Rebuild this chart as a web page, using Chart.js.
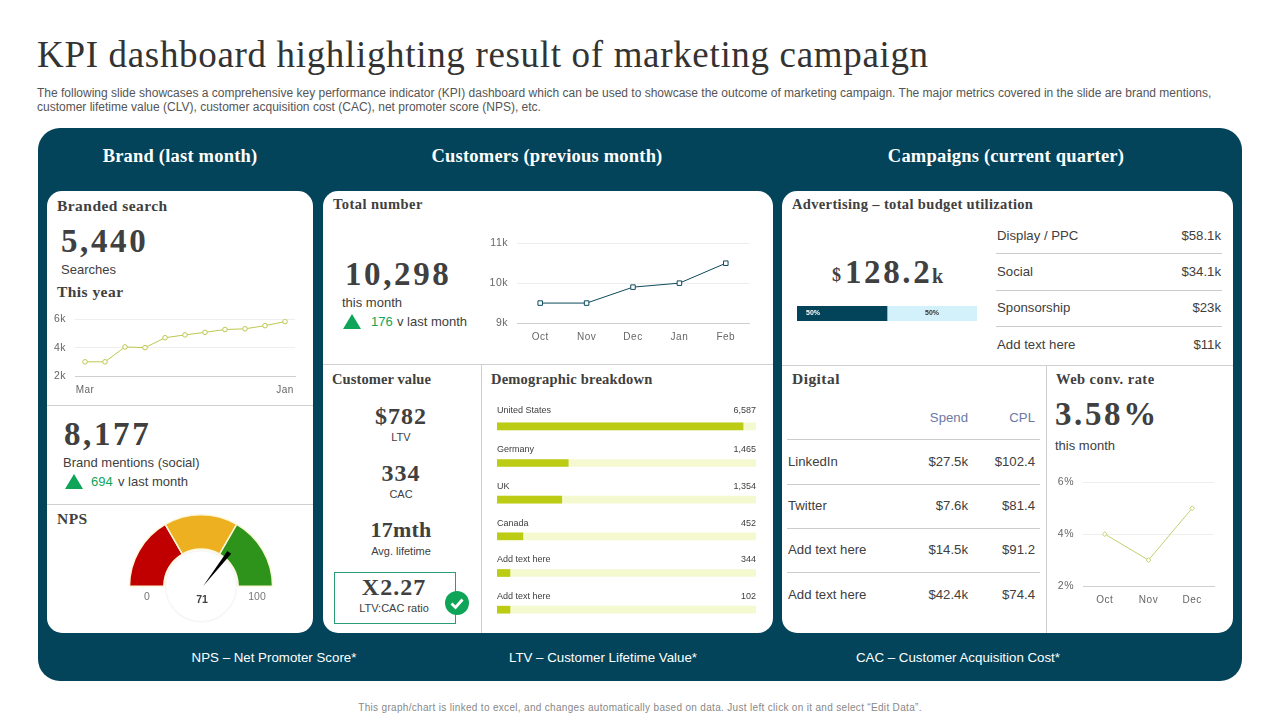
<!DOCTYPE html>
<html>
<head>
<meta charset="utf-8">
<title>KPI dashboard</title>
<script src="https://cdn.jsdelivr.net/npm/chart.js@4/dist/chart.umd.js"></script>
<style>
html,body{margin:0;padding:0;background:#fff;}
#page{position:relative;width:1280px;height:720px;overflow:hidden;font-family:"Liberation Sans",Arial,sans-serif;color:#404040;}
.box{position:absolute;}
.t{position:absolute;white-space:nowrap;transform:translateY(-50%);line-height:1.1;}
.r{transform:translate(-100%,-50%);}
.c{transform:translate(-50%,-50%);}
.serif{font-family:"Liberation Serif",serif;font-weight:bold;}
.head{font-size:14.5px;letter-spacing:.45px;margin-top:1px;}
.big{font-size:33px;letter-spacing:2.6px;}
.mid{font-size:24px;letter-spacing:1px;}
.band{font-size:18.5px;color:#fff;letter-spacing:.2px;margin-top:.2px;}
.foot{font-size:13.3px;color:#fff;margin-top:.5px;}
.sm{font-size:13px;margin-top:1px;}
.rowt{font-size:13.2px;margin-top:.5px;}
.desc{font-size:12px;color:#555;margin-top:1.5px;}
canvas{position:absolute;}
</style>
</head>
<body>
<div id="page"></div>
<script>
// chart values
var searchMonths = ['Mar','Apr','May','Jun','Jul','Aug','Sep','Oct','Nov','Dec','Jan'];
var searchValues = [3000,3000,4050,4000,4700,4900,5080,5280,5330,5550,5840];
var customerMonths = ['Oct','Nov','Dec','Jan','Feb'];
var customerValues = [9500,9500,9900,10000,10500];
var convMonths = ['Oct','Nov','Dec'];
var convValues = [4,3,5];
var countries = ['United States','Germany','UK','Canada','Add text here','Add text here'];
var countryCounts = ['6,587','1,465','1,354','452','344','102'];
var countryShare = [95,27.5,25,10,5,5];
var countryTrack = [100,100,100,100,100,100];
var budgetSplit = [50,50];
var npsBands = [33.33,33.33,33.34];
var npsScore = 71;
var adRows = ['Display / PPC','Social','Sponsorship','Add text here'];
var adSpend = ['$58.1k','$34.1k','$23k','$11k'];
var digitalRows = ['LinkedIn','Twitter','Add text here','Add text here'];
var digitalSpend = ['$27.5k','$7.6k','$14.5k','$42.4k'];
var digitalCpl = ['$102.4','$81.4','$91.2','$74.4'];

var page = document.getElementById('page');
var TEAL = '#03445a', OLIVE = '#bcc850', TICK = '#666666';

function box(x,y,w,h,css){
    var d = document.createElement('div');
    d.className = 'box';
    d.style.cssText = 'left:'+x+'px;top:'+y+'px;width:'+w+'px;height:'+h+'px;'+(css||'');
    page.appendChild(d);
    return d;
}
function txt(s,x,y,cls,css){
    var d = document.createElement('div');
    d.className = 't '+(cls||'');
    d.style.cssText = 'left:'+x+'px;top:'+y+'px;'+(css||'');
    d.textContent = s;
    page.appendChild(d);
    return d;
}
function canvas(x,y,w,h){
    var c = document.createElement('canvas');
    c.width = w; c.height = h;
    c.style.cssText = 'left:'+x+'px;top:'+y+'px;width:'+w+'px;height:'+h+'px;';
    page.appendChild(c);
    return c;
}
function triangle(x,y){
    var d = box(x,y,0,0,'border-left:9px solid transparent;border-right:9px solid transparent;border-bottom:15px solid #0fa558;');
    return d;
}

// panels
box(38,128,1204,553,'background:'+TEAL+';border-radius:22px;');
box(47,191,266,442,'background:#fff;border-radius:15px;');
box(323,191,450,442,'background:#fff;border-radius:15px;');
box(782,191,451,442,'background:#fff;border-radius:15px;');
box(47,405,266,1,'background:#d0d0d0;');
box(47,504,266,1,'background:#d0d0d0;');
box(323,364,450,1,'background:#d0d0d0;');
box(481,364,1,269,'background:#d0d0d0;');
box(782,365,451,1,'background:#d0d0d0;');
box(1046,365,1,268,'background:#d0d0d0;');

// header
txt('KPI dashboard highlighting result of marketing campaign',37,55,'serif','font-weight:normal;font-size:37px;letter-spacing:.67px;color:#333;');
txt('The following slide showcases a comprehensive key performance indicator (KPI) dashboard which can be used to showcase the outcome of marketing campaign. The major metrics covered in the slide are brand mentions,',37,92,'desc');
txt('customer lifetime value (CLV), customer acquisition cost (CAC), net promoter score (NPS), etc.',37,106.5,'desc');
txt('Brand (last month)',180,156,'c serif band');
txt('Customers (previous month)',547,156,'c serif band');
txt('Campaigns (current quarter)',1006,156,'c serif band');
txt('NPS – Net Promoter Score*',274,657,'c foot');
txt('LTV – Customer Lifetime Value*',603,657,'c foot');
txt('CAC – Customer Acquisition Cost*',958,657,'c foot');
txt('This graph/chart is linked to excel, and changes automatically based on data. Just left click on it and select “Edit Data”.',640,707,'c','font-size:10px;color:#888;letter-spacing:.32px;');

// brand column
txt('Branded search',57,205,'serif head','font-size:15.5px;');
txt('5,440',61,241,'serif big');
txt('Searches',61,269,'sm');
txt('This year',57,291,'serif head','font-size:15.5px;');
txt('8,177',64,434,'serif big');
txt('Brand mentions (social)',63,462,'sm');
triangle(65,474);
txt('694',91,481,'sm','color:#0fa558;');
txt('v last month',118,481,'sm');
txt('NPS',57,518,'serif head','font-size:15.5px;');

// customers column
txt('Total number',333,204,'serif head');
txt('10,298',345,274,'serif big');
txt('this month',342,302,'sm');
triangle(343,314);
txt('176',371,321,'sm','color:#0fa558;');
txt('v last month',397,321,'sm');
txt('Customer value',332,379,'serif head','letter-spacing:.1px;');
txt('$782',401,416,'c serif mid');
txt('LTV',401,437,'c','font-size:11px;');
txt('334',401,473,'c serif mid');
txt('CAC',401,494,'c','font-size:11px;');
txt('17mth',401,530,'c serif mid','font-size:22px;letter-spacing:.2px;');
txt('Avg. lifetime',401,551,'c','font-size:11px;');
box(334,572,120,50,'border:1px solid #2a9d75;');
txt('X2.27',394,587,'c serif mid');
txt('LTV:CAC ratio',394,608,'c','font-size:11px;');
box(445,591,24,24,'background:#0fa558;border-radius:50%;').innerHTML =
    '<svg width="24" height="24"><path d="M6.5 12.5l4 4 7-8" fill="none" stroke="#fff" stroke-width="2.8"/></svg>';
txt('Demographic breakdown',491,379,'serif head','letter-spacing:.2px;');

// campaigns column
txt('Advertising – total budget utilization',792,204,'serif head','letter-spacing:.35px;');
txt('$',832,276,'serif','font-size:18px;');
txt('128.2',845,272,'serif big');
txt('k',932,276,'serif','font-size:20px;');
adRows.forEach(function(name,i){
    var y = 235 + i*36.4;
    txt(name,997,y,'rowt');
    txt(adSpend[i],1221,y,'r rowt');
    if(i<3) box(996,Math.round(y+18.4),226,1,'background:#ccc;');
});
txt('Digital',792,378,'serif head','font-size:15.5px;');
txt('Spend',968,417,'r rowt','color:#6a7aa5;');
txt('CPL',1035,417,'r rowt','color:#6a7aa5;');
box(787,439,253,1,'background:#ccc;');
digitalRows.forEach(function(name,i){
    var y = 461 + i*44.4;
    txt(name,788,y,'rowt');
    txt(digitalSpend[i],968,y,'r rowt');
    txt(digitalCpl[i],1035,y,'r rowt');
    if(i<3) box(787,Math.round(y+22.6),253,1,'background:#ccc;');
});
txt('Web conv. rate',1056,379,'serif head');
txt('3.58%',1055,414,'serif big');
txt('this month',1055,445,'sm');

Chart.defaults.animation = false;
Chart.defaults.font.family = '"Liberation Sans", Arial, sans-serif';
Chart.defaults.plugins.legend.display = false;
Chart.defaults.plugins.tooltip.enabled = false;

// tick labels in the picture are slightly spaced out
var spacedTicks = {
    id:'spacedTicks',
    beforeDraw:function(chart){chart.ctx.letterSpacing = '0.5px';}
};

// line chart whose plot area sits on the given box
function lineChart(plot,labels,values,o){
    var left = 40, top = 14, bottom = 26;
    var c = canvas(plot.x-left,plot.y-top,plot.w+left+3,plot.h+top+bottom);
    return new Chart(c,{
        type:'line',
        data:{labels:labels,datasets:[{
            data:values,
            borderColor:o.color,
            borderWidth:1,
            tension:0,
            pointStyle:o.marker,
            pointRadius:o.radius,
            pointBackgroundColor:'#fff',
            pointBorderColor:o.color,
            pointBorderWidth:1
        }]},
        options:{
            responsive:false,
            layout:{padding:{top:2,right:3,left:0,bottom:0}},
            scales:{
                x:{
                    offset:true,
                    afterFit:function(s){s.height = bottom;},
                    border:{color:'#cfcfcf'},
                    grid:{display:false},
                    ticks:{color:TICK,font:{size:10},padding:0,maxRotation:0,autoSkip:false,
                        callback:o.xLabel || function(v,i){return labels[i];}}
                },
                y:{
                    min:o.min,max:o.max,
                    afterFit:function(s){s.width = left;},
                    afterBuildTicks:function(s){s.ticks = o.ticks.map(function(v){return {value:v};});},
                    border:{display:false},
                    grid:{color:function(ctx){return ctx.tick.value==o.min ? '#cfcfcf' : '#eeeeee';},drawTicks:false},
                    ticks:{color:TICK,font:{size:10.5},padding:9,callback:o.yLabel}
                }
            }
        },
        plugins:[spacedTicks]
    });
}
function kLabel(v){return (v/1000)+'k';}

lineChart({x:74.5,y:318,w:222,h:58},searchMonths,searchValues,{
    color:OLIVE,marker:'circle',radius:2.3,min:2000,max:6000,ticks:[2000,4000,6000],yLabel:kLabel,
    xLabel:function(v,i){return (i==0 || i==searchMonths.length-1) ? searchMonths[i] : '';}
});
lineChart({x:516.5,y:242,w:234,h:81},customerMonths,customerValues,{
    color:'#0f4a5c',marker:'rect',radius:3.2,min:9000,max:11000,ticks:[9000,10000,11000],yLabel:kLabel
});
lineChart({x:1083,y:481,w:133,h:105},convMonths,convValues,{
    color:'#c5cf70',marker:'rectRot',radius:2.4,min:2,max:6,ticks:[2,4,6],yLabel:function(v){return v+'%';}
});

// demographic bars, name and count printed above each bar
var countryText = {
    id:'countryText',
    afterDatasetsDraw:function(chart){
        var g = chart.ctx, x = chart.scales.x, y = chart.scales.y;
        g.save();
        g.font = '9px "Liberation Sans", Arial, sans-serif';
        g.fillStyle = '#404040';
        g.textBaseline = 'middle';
        countries.forEach(function(name,i){
            var py = y.getPixelForValue(i) - (i==0 ? 16 : 13);
            g.textAlign = 'left';
            g.fillText(name,x.left,py);
            g.textAlign = 'right';
            g.fillText(countryCounts[i],x.right,py);
        });
        g.restore();
    }
};
new Chart(canvas(497,398,259,230),{
    type:'bar',
    data:{labels:countries,datasets:[
        {data:countryShare,backgroundColor:'#bccb14',grouped:false,order:1,barThickness:7},
        {data:countryTrack,backgroundColor:'#f5f9cf',grouped:false,order:2,barThickness:7}
    ]},
    options:{
        indexAxis:'y',
        responsive:false,
        layout:{padding:{top:10}},
        scales:{
            x:{display:false,min:0,max:100},
            y:{display:false}
        }
    },
    plugins:[countryText]
});

// budget split bar
var budgetText = {
    id:'budgetText',
    afterDatasetsDraw:function(chart){
        var g = chart.ctx, x = chart.scales.x, py = chart.height/2;
        g.save();
        g.font = 'bold 7px "Liberation Sans", Arial, sans-serif';
        g.textAlign = 'center';
        g.textBaseline = 'middle';
        g.fillStyle = '#fff';
        g.fillText(budgetSplit[0]+'%',x.left+16,py);
        g.fillStyle = '#333';
        g.fillText(budgetSplit[1]+'%',x.getPixelForValue(budgetSplit[0]+budgetSplit[1]/2),py);
        g.restore();
    }
};
new Chart(canvas(797,306,180,15),{
    type:'bar',
    data:{labels:['Budget'],datasets:[
        {data:[budgetSplit[0]],backgroundColor:TEAL,barPercentage:1,categoryPercentage:1},
        {data:[budgetSplit[1]],backgroundColor:'#d3f1fa',barPercentage:1,categoryPercentage:1}
    ]},
    options:{
        indexAxis:'y',
        responsive:false,
        layout:{padding:0},
        scales:{
            x:{display:false,stacked:true,min:0,max:100},
            y:{display:false,stacked:true}
        }
    },
    plugins:[budgetText]
});

// NPS gauge: half doughnut, inner dial and needle on top
var gaugeDial = {
    id:'gaugeDial',
    afterDatasetsDraw:function(chart){
        var g = chart.ctx, arc = chart.getDatasetMeta(0).data[0];
        var cx = arc.x, cy = arc.y, len = arc.outerRadius*0.6;
        var a = Math.PI*(1+npsScore/100);
        var nx = Math.cos(a), ny = Math.sin(a);
        g.save();
        g.beginPath();
        g.arc(cx,cy,35.5,0,Math.PI*2);
        g.fillStyle = '#fff';
        g.fill();
        g.strokeStyle = '#f6f6f6';
        g.lineWidth = 1.5;
        g.stroke();
        g.beginPath();
        g.moveTo(cx+2,cy);
        g.lineTo(cx+2+nx*len-ny*2.4,cy+ny*len+nx*2.4);
        g.lineTo(cx+2+nx*len+ny*2.4,cy+ny*len-nx*2.4);
        g.closePath();
        g.fillStyle = '#000';
        g.fill();
        g.restore();
    }
};
new Chart(canvas(101,505,200,130),{
    type:'doughnut',
    data:{labels:['Low','Mid','High'],datasets:[{
        data:npsBands,
        backgroundColor:['#c00000','#edb021','#2e931b'],
        borderColor:'#fbf7d8',
        borderWidth:1.5,
        borderAlign:'center'
    }]},
    options:{
        responsive:false,
        rotation:-90,
        circumference:180,
        cutout:'52%',
        layout:{padding:{left:27,right:27,top:9,bottom:48}}
    },
    plugins:[gaugeDial]
});
txt('0',147,597,'c','font-size:10.5px;color:#777;');
txt('100',257,597,'c','font-size:10.5px;color:#777;');
txt(String(npsScore),202,600,'c','font-size:10.5px;font-weight:bold;');
</script>
</body>
</html>
